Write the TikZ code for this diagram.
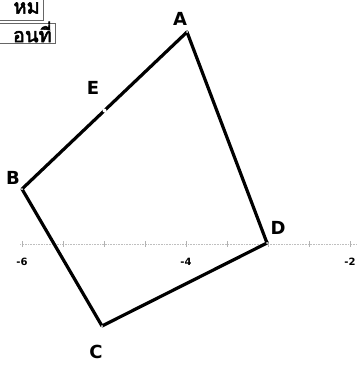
\documentclass[tikz,border=0pt]{standalone}
\usepackage{fontspec}
\setmainfont{DejaVu Sans}
\newfontfamily\thaifont[Script=Thai,AutoFakeBold=2.5]{Loma}
\usetikzlibrary{positioning,calc}
\newcommand{\ptlabel}{\fontsize{18}{18}\selectfont\bfseries}

\begin{document}
\begin{tikzpicture}[x=1pt,y=-1pt,
  side/.style={line width=3.2pt, line join=round},
  vertex/.style={font=\ptlabel, inner sep=0pt},
  tab/.style={draw=black!60, fill=white, line width=0.8pt},
  tabtext/.style={font=\thaifont\fontsize{20}{20}\selectfont\bfseries, inner sep=0pt, anchor=east},
  axis/.style={black!25, densely dotted, line width=0.6pt},
  tick/.style={black!30, line width=0.6pt},
  ticknum/.style={font=\fontsize{10}{10}\selectfont\bfseries, inner sep=0pt}
]
\useasboundingbox (0,0) rectangle (357,388);

% axis
\draw[axis] (20,244) -- (357,244);
\foreach \v in {-6,-5.5,...,-2} {
  \draw[tick] ({22+(\v+6)*82},241) -- ({22+(\v+6)*82},247);
}
\node[ticknum] (m6) at (22,262) {-6};
\node[ticknum] (m4) at (186,262) {-4};
\node[ticknum] (m2) at (350,262) {-2};

% tabs
\draw[tab] (-5,-5) rectangle (43,20);
\node[tabtext] (tabnew) at (40,8) {หม};
\draw[tab] (-5,23) rectangle (55,43);
\node[tabtext] (tabmove) at (52,32) {อนที่};

% quadrilateral
\coordinate (A) at (187,32);
\coordinate (B) at (22,189);
\coordinate (C) at (102,326);
\coordinate (D) at (267,243);
\coordinate (E) at ($(A)!0.5!(B)$);
\draw[side] (A) -- (B) -- (C) -- (D) -- cycle;
\fill[white] (E) circle (2);
\foreach \p in {A,B,C,D} {\fill[white] (\p) circle (1);}

\node[vertex] (lA) at (180,19) {A};
\node[vertex] (lB) at (13,178) {B};
\node[vertex] (lC) at (96,352) {C};
\node[vertex] (lD) at (278,228) {D};
\node[vertex] (lE) at (93,88) {E};
\end{tikzpicture}
\end{document}
